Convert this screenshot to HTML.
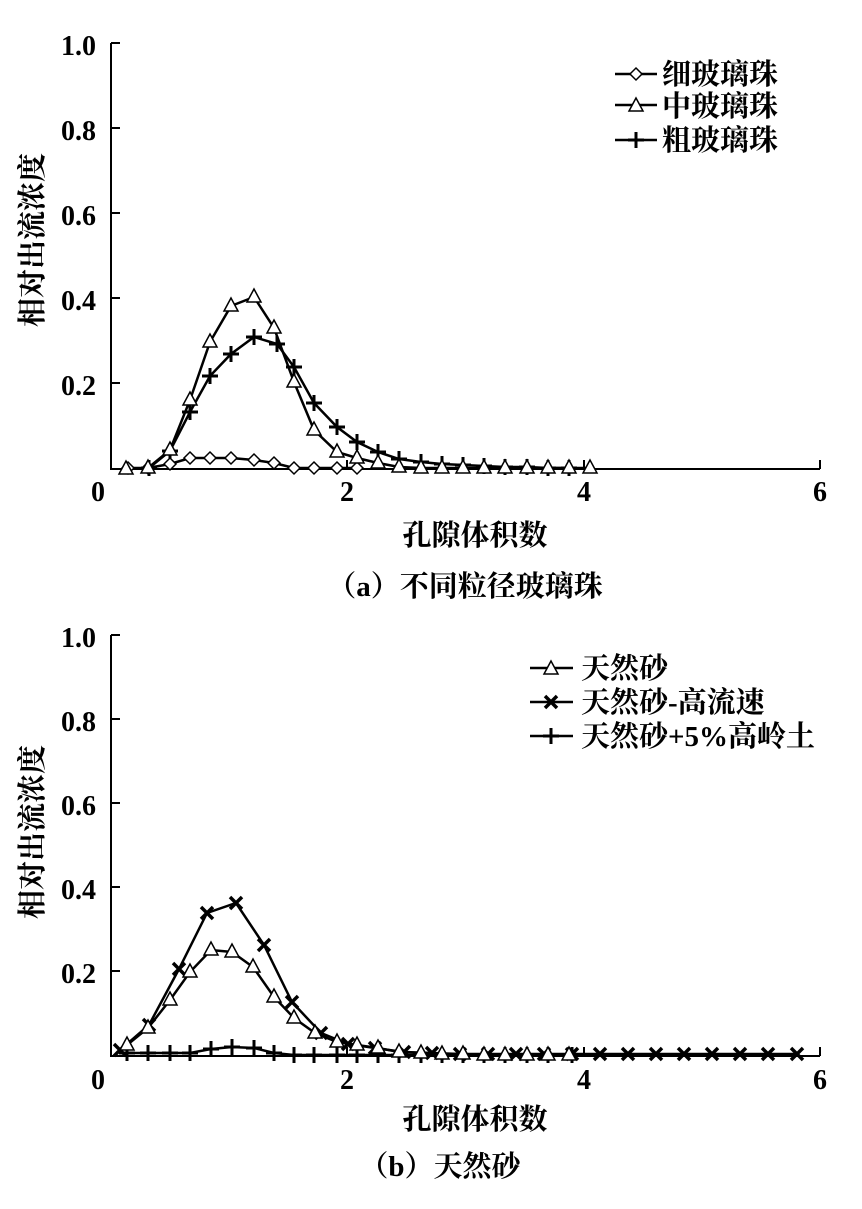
<!DOCTYPE html><html><head><meta charset="utf-8"><style>body{margin:0;background:#fff}svg{display:block}
text{font-family:"Liberation Serif","Noto Serif CJK SC",serif;fill:#000}
.n{font-size:28px;font-weight:bold}.c{font-size:29px;font-weight:bold}
</style></head><body>
<svg width="862" height="1209" viewBox="0 0 862 1209" xmlns="http://www.w3.org/2000/svg">
<defs>
<path id="tri" d="M0,-8 L7,5 L-7,5 Z" fill="#fff" stroke="#000" stroke-width="1.5"/>
<path id="dia" d="M0,-6 L6,0 L0,6 L-6,0 Z" fill="#fff" stroke="#000" stroke-width="1.5"/>
<path id="pl" d="M-8,0 H8 M0,-8 V8" stroke="#000" stroke-width="3"/>
<path id="xx" d="M-6,-6 L6,6 M-6,6 L6,-6" stroke="#000" stroke-width="3.5"/>
</defs>
<g stroke="#000" stroke-width="2" fill="none">
<path d="M111,43 V469 H820 M111,43 H120 M111,128 H120 M111,213 H120 M111,298 H120 M111,383 H120 M347,469 V460 M584,469 V460 M820,469 V460"/>
<path d="M111,635 V1056 H820 M111,635 H120 M111,719 H120 M111,803 H120 M111,887 H120 M111,971 H120 M347,1056 V1047 M584,1056 V1047 M820,1056 V1047"/>
</g>
<g class="n" text-anchor="end"><text x="96" y="55">1.0</text><text x="96" y="140">0.8</text><text x="96" y="225">0.6</text><text x="96" y="310">0.4</text><text x="96" y="395">0.2</text>
<text x="96" y="647">1.0</text><text x="96" y="731">0.8</text><text x="96" y="815">0.6</text><text x="96" y="899">0.4</text><text x="96" y="983">0.2</text></g>
<g class="n" text-anchor="middle"><text x="98" y="501">0</text><text x="347" y="501">2</text><text x="584" y="501">4</text><text x="820" y="501">6</text>
<text x="98" y="1089">0</text><text x="347" y="1089">2</text><text x="584" y="1089">4</text><text x="820" y="1089">6</text></g>
<text class="c" transform="translate(42,240) rotate(-90)" text-anchor="middle">相对出流浓度</text>
<text class="c" transform="translate(42,832) rotate(-90)" text-anchor="middle">相对出流浓度</text>
<text class="c" x="475" y="545" text-anchor="middle">孔隙体积数</text>
<text class="c" x="465" y="596" text-anchor="middle">（a）不同粒径玻璃珠</text>
<text class="c" x="475" y="1129" text-anchor="middle">孔隙体积数</text>
<text class="c" x="440" y="1176" text-anchor="middle">（b）天然砂</text>
<g stroke="#000" stroke-width="2.5" fill="none">
<polyline points="149,468 170,451 190,412 210,376 231,354 254,337 277,344 294,367 314,403 337,427 357,442 378,452 399,459 421,462 442,464 463,465 484,466 505,467 527,467 548,468 569,468"/>
<polyline points="126,469 148,468 170,450 190,400 210,342 231,306 254,297 274,328 294,382 314,430 337,452 357,458 378,463 399,467 421,468 442,468 463,468 484,468 505,468 527,468 548,468 569,468 590,468"/>
<polyline points="128,468 148,468 170,464 190,458 210,458 231,458 254,460 274,463 294,468 314,468 337,468 357,468"/>
<polyline points="120,1050 149,1025 179,969 207,913 236,903 264,945 292,1002 321,1033 348,1044 375,1048 404,1052 432,1053 460,1054 488,1054 516,1054 544,1054 572,1054 600,1054 628,1054 656,1054 684,1054 712,1054 740,1054 768,1054 797,1054"/>
<polyline points="127,1045 148,1028 170,1000 190,972 211,950 232,952 253,967 274,997 294,1018 315,1033 337,1042 357,1045 378,1048 399,1052 421,1053 442,1054 463,1054 484,1055 505,1055 527,1055 548,1055 569,1055"/>
<polyline points="127,1053 148,1053 170,1053 190,1053 211,1049 232,1047 254,1048 274,1053 294,1055 314,1055 337,1055 357,1055 378,1055 399,1055 421,1055 442,1055 463,1055 484,1055 505,1055 527,1055 548,1055 572,1055"/>
<path d="M615,74 H657 M615,105 H657 M615,140 H657 M530,668 H573 M530,702 H573 M530,736 H573"/>
</g>
<g>
<use href="#pl" x="149" y="468"/><use href="#pl" x="170" y="451"/><use href="#pl" x="190" y="412"/><use href="#pl" x="210" y="376"/><use href="#pl" x="231" y="354"/><use href="#pl" x="254" y="337"/><use href="#pl" x="277" y="344"/><use href="#pl" x="294" y="367"/><use href="#pl" x="314" y="403"/><use href="#pl" x="337" y="427"/><use href="#pl" x="357" y="442"/><use href="#pl" x="378" y="452"/><use href="#pl" x="399" y="459"/><use href="#pl" x="421" y="462"/><use href="#pl" x="442" y="464"/><use href="#pl" x="463" y="465"/><use href="#pl" x="484" y="466"/><use href="#pl" x="505" y="467"/><use href="#pl" x="527" y="467"/><use href="#pl" x="548" y="468"/><use href="#pl" x="569" y="468"/>
<use href="#dia" x="128" y="468"/><use href="#dia" x="148" y="468"/><use href="#dia" x="170" y="464"/><use href="#dia" x="190" y="458"/><use href="#dia" x="210" y="458"/><use href="#dia" x="231" y="458"/><use href="#dia" x="254" y="460"/><use href="#dia" x="274" y="463"/><use href="#dia" x="294" y="468"/><use href="#dia" x="314" y="468"/><use href="#dia" x="337" y="468"/><use href="#dia" x="357" y="468"/>
<use href="#tri" x="126" y="469"/><use href="#tri" x="148" y="468"/><use href="#tri" x="170" y="450"/><use href="#tri" x="190" y="400"/><use href="#tri" x="210" y="342"/><use href="#tri" x="231" y="306"/><use href="#tri" x="254" y="297"/><use href="#tri" x="274" y="328"/><use href="#tri" x="294" y="382"/><use href="#tri" x="314" y="430"/><use href="#tri" x="337" y="452"/><use href="#tri" x="357" y="458"/><use href="#tri" x="378" y="463"/><use href="#tri" x="399" y="467"/><use href="#tri" x="421" y="468"/><use href="#tri" x="442" y="468"/><use href="#tri" x="463" y="468"/><use href="#tri" x="484" y="468"/><use href="#tri" x="505" y="468"/><use href="#tri" x="527" y="468"/><use href="#tri" x="548" y="468"/><use href="#tri" x="569" y="468"/><use href="#tri" x="590" y="468"/>
<use href="#pl" x="127" y="1053"/><use href="#pl" x="148" y="1053"/><use href="#pl" x="170" y="1053"/><use href="#pl" x="190" y="1053"/><use href="#pl" x="211" y="1049"/><use href="#pl" x="232" y="1047"/><use href="#pl" x="254" y="1048"/><use href="#pl" x="274" y="1053"/><use href="#pl" x="294" y="1055"/><use href="#pl" x="314" y="1055"/><use href="#pl" x="337" y="1055"/><use href="#pl" x="357" y="1055"/><use href="#pl" x="378" y="1055"/><use href="#pl" x="399" y="1055"/><use href="#pl" x="421" y="1055"/><use href="#pl" x="442" y="1055"/><use href="#pl" x="463" y="1055"/><use href="#pl" x="484" y="1055"/><use href="#pl" x="505" y="1055"/><use href="#pl" x="527" y="1055"/><use href="#pl" x="548" y="1055"/><use href="#pl" x="572" y="1055"/>
<use href="#xx" x="120" y="1050"/><use href="#xx" x="149" y="1025"/><use href="#xx" x="179" y="969"/><use href="#xx" x="207" y="913"/><use href="#xx" x="236" y="903"/><use href="#xx" x="264" y="945"/><use href="#xx" x="292" y="1002"/><use href="#xx" x="321" y="1033"/><use href="#xx" x="348" y="1044"/><use href="#xx" x="375" y="1048"/><use href="#xx" x="404" y="1052"/><use href="#xx" x="432" y="1053"/><use href="#xx" x="460" y="1054"/><use href="#xx" x="488" y="1054"/><use href="#xx" x="516" y="1054"/><use href="#xx" x="544" y="1054"/><use href="#xx" x="572" y="1054"/><use href="#xx" x="600" y="1054"/><use href="#xx" x="628" y="1054"/><use href="#xx" x="656" y="1054"/><use href="#xx" x="684" y="1054"/><use href="#xx" x="712" y="1054"/><use href="#xx" x="740" y="1054"/><use href="#xx" x="768" y="1054"/><use href="#xx" x="797" y="1054"/>
<use href="#tri" x="127" y="1045"/><use href="#tri" x="148" y="1028"/><use href="#tri" x="170" y="1000"/><use href="#tri" x="190" y="972"/><use href="#tri" x="211" y="950"/><use href="#tri" x="232" y="952"/><use href="#tri" x="253" y="967"/><use href="#tri" x="274" y="997"/><use href="#tri" x="294" y="1018"/><use href="#tri" x="315" y="1033"/><use href="#tri" x="337" y="1042"/><use href="#tri" x="357" y="1045"/><use href="#tri" x="378" y="1048"/><use href="#tri" x="399" y="1052"/><use href="#tri" x="421" y="1053"/><use href="#tri" x="442" y="1054"/><use href="#tri" x="463" y="1054"/><use href="#tri" x="484" y="1055"/><use href="#tri" x="505" y="1055"/><use href="#tri" x="527" y="1055"/><use href="#tri" x="548" y="1055"/><use href="#tri" x="569" y="1055"/>
<use href="#dia" x="636" y="74"/><use href="#tri" x="636" y="106"/><use href="#pl" x="636" y="140"/>
<use href="#tri" x="551" y="669"/><use href="#xx" x="551" y="702"/><use href="#pl" x="551" y="736"/>
</g>
<g class="c"><text x="662" y="84">细玻璃珠</text><text x="662" y="116">中玻璃珠</text><text x="662" y="150">粗玻璃珠</text>
<text x="581" y="678">天然砂</text><text x="581" y="712">天然砂-高流速</text><text x="581" y="746">天然砂+5%高岭土</text></g>
</svg></body></html>
